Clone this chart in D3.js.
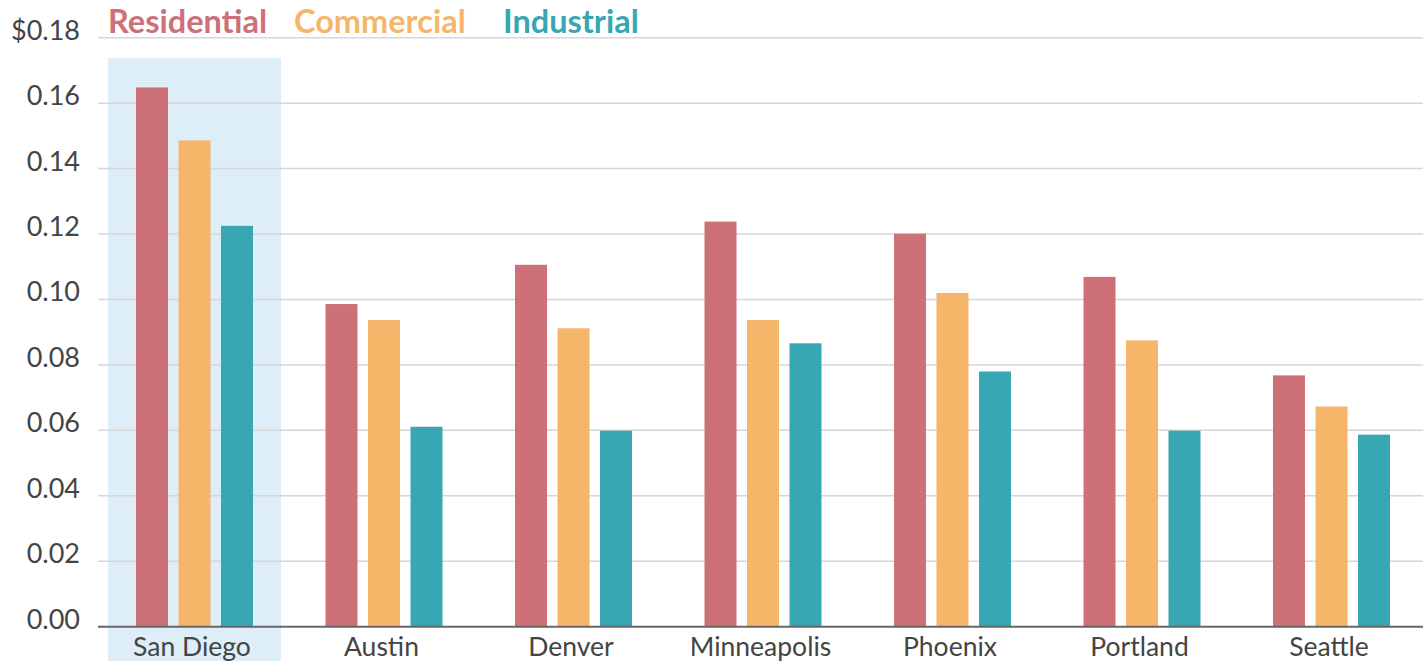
<!DOCTYPE html>
<html>
<head>
    <meta charset="utf-8">
    <title>Electricity prices by city</title>
    <script src="https://d3js.org/d3.v7.min.js"></script>
    <style>
        body { margin: 0; background: #fff; }
        text { font-family: Lato, "Open Sans", sans-serif; }
    </style>
</head>
<body>
    <script>
        // chart data
        var cities = ["San Diego", "Austin", "Denver", "Minneapolis", "Phoenix", "Portland", "Seattle"];
        var seriesNames = ["Residential", "Commercial", "Industrial"];
        var residential = [0.1648, 0.0986, 0.1106, 0.1238, 0.1201, 0.1069, 0.0768];
        var commercial  = [0.1486, 0.0937, 0.0912, 0.0937, 0.1020, 0.0875, 0.0673];
        var industrial  = [0.1225, 0.0611, 0.0599, 0.0866, 0.0780, 0.0599, 0.0587];
        var yTicks = [0, 0.02, 0.04, 0.06, 0.08, 0.10, 0.12, 0.14, 0.16, 0.18];
        var highlighted = "San Diego";

        var colors = ["#cd7078", "#f6b66a", "#37a7b3"];
        var series = [residential, commercial, industrial];

        var width = 1423, height = 661;

        var svg = d3.select("body").append("svg")
            .attr("width", width)
            .attr("height", height);

        // y scale: 0 at baseline, 0.18 at top gridline
        var y = d3.scaleLinear()
            .domain([0, 0.18])
            .range([626.7, 37.7]);

        // x scale for city groups
        var x0 = d3.scaleBand()
            .domain(cities)
            .range([99.75, 1426.25])
            .paddingInner(0.3826)
            .paddingOuter(0.1913);

        // x scale for bars within a group
        var x1 = d3.scaleBand()
            .domain(seriesNames)
            .range([0, x0.bandwidth()])
            .paddingInner(0.247);

        // highlight band behind the first city
        svg.append("rect")
            .attr("x", x0(highlighted) - 28)
            .attr("y", 58)
            .attr("width", x0.bandwidth() + 56)
            .attr("height", height - 58)
            .attr("fill", "#ddeef8");

        // gridlines
        svg.append("g")
            .selectAll("line")
            .data(yTicks.slice(1))
            .enter().append("line")
            .attr("x1", 98)
            .attr("x2", width)
            .attr("y1", function(d) { return y(d); })
            .attr("y2", function(d) { return y(d); })
            .attr("stroke", "#d6d6d6")
            .attr("stroke-width", 1.5);

        // tick labels
        svg.append("g")
            .selectAll("text")
            .data(yTicks)
            .enter().append("text")
            .attr("x", 80)
            .attr("y", function(d) { return y(d) + 2; })
            .attr("text-anchor", "end")
            .attr("font-size", 27)
            .attr("fill", "#444")
            .text(function(d) { return (d === 0.18 ? "$" : "") + d3.format(".2f")(d); });

        // bars
        var groups = svg.append("g")
            .selectAll("g")
            .data(cities)
            .enter().append("g")
            .attr("transform", function(d) { return "translate(" + x0(d) + ",0)"; });

        groups.selectAll("rect")
            .data(function(d, i) {
                return seriesNames.map(function(s, j) { return { name: s, value: series[j][i], color: colors[j] }; });
            })
            .enter().append("rect")
            .attr("x", function(d) { return x1(d.name); })
            .attr("width", x1.bandwidth())
            .attr("y", function(d) { return y(d.value); })
            .attr("height", function(d) { return y(0) - y(d.value); })
            .attr("fill", function(d) { return d.color; });

        // baseline
        svg.append("line")
            .attr("x1", 98)
            .attr("x2", width)
            .attr("y1", y(0))
            .attr("y2", y(0))
            .attr("stroke", "#666")
            .attr("stroke-width", 2);

        // city labels
        svg.append("g")
            .selectAll("text")
            .data(cities)
            .enter().append("text")
            .attr("x", function(d) { return x0(d) + x0.bandwidth() / 2 - 2.5; })
            .attr("y", 656)
            .attr("text-anchor", "middle")
            .attr("font-size", 26.5)
            .attr("fill", "#444")
            .text(function(d) { return d; });

        // legend
        var legendX = [108, 294, 503];
        svg.append("g")
            .selectAll("text")
            .data(seriesNames)
            .enter().append("text")
            .attr("x", function(d, i) { return legendX[i]; })
            .attr("y", 32.5)
            .attr("font-size", 32.5)
            .attr("font-weight", "bold")
            .attr("fill", function(d, i) { return colors[i]; })
            .text(function(d) { return d; });
    </script>
</body>
</html>
